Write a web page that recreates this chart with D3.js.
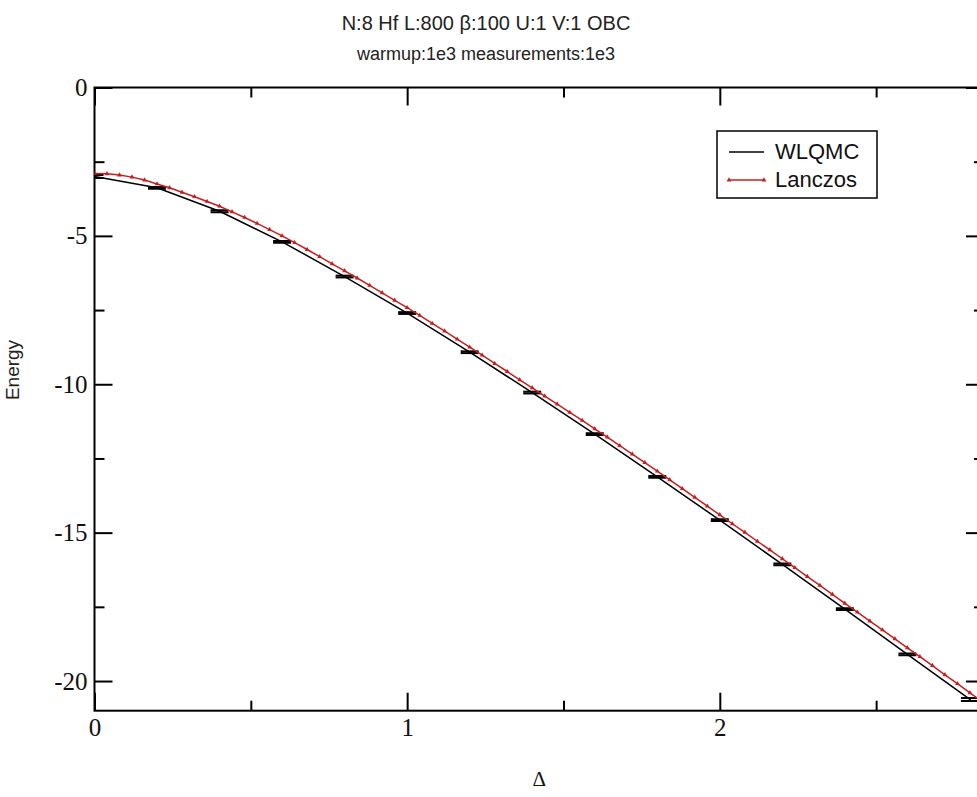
<!DOCTYPE html>
<html>
<head>
<meta charset="utf-8">
<script src="https://cdn.jsdelivr.net/npm/d3@7"></script>
<style>
  body { margin: 0; background: #fff; }
  svg { display: block; }
</style>
</head>
<body>
<svg id="plotSVG" width="977" height="797"></svg>
<script>
// title text
let titleText = "N:8 Hf L:800 \u03b2:100 U:1 V:1 OBC";
let subtitleText = "warmup:1e3 measurements:1e3";

// WLQMC points (with error bars)
let qmcDelta = [0, 0.2, 0.4, 0.6, 0.8, 1.0, 1.2, 1.4, 1.6, 1.8, 2.0, 2.2, 2.4, 2.6, 2.8];
let qmcEnergy = [-3.0, -3.38, -4.17, -5.2, -6.37, -7.6, -8.92, -10.28, -11.68, -13.12, -14.58, -16.07, -17.58, -19.1, -20.62];
let qmcError = [0.05, 0.03, 0.03, 0.03, 0.03, 0.03, 0.03, 0.03, 0.03, 0.03, 0.03, 0.03, 0.03, 0.03, 0.05];

// Lanczos (exact diagonalisation)
let lanczosDelta = [0, 0.04, 0.08, 0.12, 0.16, 0.2, 0.24, 0.28, 0.32, 0.36, 0.4, 0.44, 0.48, 0.52, 0.56, 0.6,
  0.64, 0.68, 0.72, 0.76, 0.8, 0.84, 0.88, 0.92, 0.96, 1.0, 1.04, 1.08, 1.12, 1.16, 1.2, 1.24, 1.28, 1.32,
  1.36, 1.4, 1.44, 1.48, 1.52, 1.56, 1.6, 1.64, 1.68, 1.72, 1.76, 1.8, 1.84, 1.88, 1.92, 1.96, 2.0, 2.04,
  2.08, 2.12, 2.16, 2.2, 2.24, 2.28, 2.32, 2.36, 2.4, 2.44, 2.48, 2.52, 2.56, 2.6, 2.64, 2.68, 2.72, 2.76,
  2.8, 2.84];
let lanczosEnergy = [-2.90, -2.91, -2.95, -3.02, -3.12, -3.25, -3.38, -3.53, -3.68, -3.84, -4.00, -4.19,
  -4.38, -4.58, -4.79, -5.00, -5.23, -5.46, -5.70, -5.94, -6.18, -6.42, -6.67, -6.92, -7.17, -7.42, -7.68,
  -7.95, -8.21, -8.48, -8.75, -9.02, -9.30, -9.57, -9.85, -10.12, -10.40, -10.67, -10.95, -11.22, -11.50,
  -11.78, -12.07, -12.35, -12.64, -12.93, -13.22, -13.52, -13.81, -14.11, -14.40, -14.70, -14.99, -15.29,
  -15.58, -15.88, -16.18, -16.48, -16.78, -17.08, -17.38, -17.68, -17.98, -18.28, -18.58, -18.88, -19.18,
  -19.48, -19.79, -20.09, -20.40, -20.70];

// ticks
let xMajor = [0, 1, 2];
let xMinor = [0.5, 1.5, 2.5];
let yMajor = [0, -5, -10, -15, -20];
let yMinor = [-2.5, -7.5, -12.5, -17.5];

let legendNames = ["WLQMC", "Lanczos"];

let redColor = "#c81e1e";
let serif = "'Liberation Serif', 'DejaVu Serif', serif";
let sans = "'Liberation Sans', Arial, sans-serif";

let qmcData = qmcDelta.map((d, i) => ({x: d, y: qmcEnergy[i], e: qmcError[i]}));
let lanczosData = lanczosDelta.map((d, i) => ({x: d, y: lanczosEnergy[i]}));

let svg = d3.select("#plotSVG");
svg.append("rect").attr("width", 977).attr("height", 797).attr("fill", "white");

// plot frame runs a bit past the right edge of the picture
let pLeft = 94.5, pRight = 984, pTop = 87.5, pBottom = 710.7;

let xScale = d3.scaleLinear().domain([0, 2.845]).range([pLeft, pRight]);
let yScale = d3.scaleLinear().domain([0, -21]).range([pTop, pBottom]);

// titles
svg.append("text")
  .text(titleText)
  .attr("x", 486).attr("y", 30)
  .attr("text-anchor", "middle")
  .style("font-family", sans)
  .style("font-size", "20px")
  .attr("fill", "#222");

svg.append("text")
  .text(subtitleText)
  .attr("x", 486).attr("y", 60)
  .attr("text-anchor", "middle")
  .style("font-family", sans)
  .style("font-size", "18px")
  .attr("fill", "#222");

// axes
function styleAxis(g) {
  g.select(".domain").remove();
  g.selectAll(".tick line").attr("stroke", "#000").attr("stroke-width", 2);
  g.selectAll(".tick text")
    .style("font-family", serif)
    .style("font-size", "25px")
    .attr("fill", "#111");
}

svg.append("g")
  .attr("transform", "translate(0," + pBottom + ")")
  .call(d3.axisBottom(xScale).tickValues(xMajor).tickSize(-18).tickPadding(8).tickFormat(d3.format("d")))
  .call(styleAxis);
svg.append("g")
  .attr("transform", "translate(0," + pBottom + ")")
  .call(d3.axisBottom(xScale).tickValues(xMinor).tickSize(-10).tickFormat(""))
  .call(styleAxis);
svg.append("g")
  .attr("transform", "translate(0," + pTop + ")")
  .call(d3.axisTop(xScale).tickValues(xMajor).tickSize(-18).tickFormat(""))
  .call(styleAxis);
svg.append("g")
  .attr("transform", "translate(0," + pTop + ")")
  .call(d3.axisTop(xScale).tickValues(xMinor).tickSize(-10).tickFormat(""))
  .call(styleAxis);

svg.append("g")
  .attr("transform", "translate(" + pLeft + ",0)")
  .call(d3.axisLeft(yScale).tickValues(yMajor).tickSize(-18).tickPadding(7).tickFormat(d => String(d)))
  .call(styleAxis);
svg.append("g")
  .attr("transform", "translate(" + pLeft + ",0)")
  .call(d3.axisLeft(yScale).tickValues(yMinor).tickSize(-10).tickFormat(""))
  .call(styleAxis);
svg.append("g")
  .attr("transform", "translate(" + pRight + ",0)")
  .call(d3.axisRight(yScale).tickValues(yMajor).tickSize(-18).tickFormat(""))
  .call(styleAxis);
svg.append("g")
  .attr("transform", "translate(" + pRight + ",0)")
  .call(d3.axisRight(yScale).tickValues(yMinor).tickSize(-10).tickFormat(""))
  .call(styleAxis);

// frame
svg.append("rect")
  .attr("x", pLeft).attr("y", pTop)
  .attr("width", pRight - pLeft).attr("height", pBottom - pTop)
  .attr("fill", "none").attr("stroke", "#000").attr("stroke-width", 2);

// axis labels
svg.append("text")
  .text("\u0394")
  .attr("x", (pLeft + pRight) / 2).attr("y", 786)
  .attr("text-anchor", "middle")
  .style("font-family", serif)
  .style("font-size", "21px")
  .attr("fill", "#111");

svg.append("text")
  .text("Energy")
  .attr("transform", "translate(19,370) rotate(-90)")
  .attr("text-anchor", "middle")
  .style("font-family", sans)
  .style("font-size", "19px")
  .attr("fill", "#222");

// data
svg.append("clipPath").attr("id", "plotClip")
  .append("rect").attr("x", pLeft).attr("y", pTop)
  .attr("width", pRight - pLeft).attr("height", pBottom - pTop);

let plot = svg.append("g").attr("clip-path", "url(#plotClip)");

let line = d3.line().x(d => xScale(d.x)).y(d => yScale(d.y));

plot.append("path")
  .datum(qmcData)
  .attr("d", line)
  .attr("fill", "none")
  .attr("stroke", "#000")
  .attr("stroke-width", 1.5);

// error bars
let bars = plot.selectAll(".errbar")
  .data(qmcData)
  .join("g")
  .attr("class", "errbar")
  .attr("stroke", "#000")
  .attr("stroke-width", 2);
bars.append("line")
  .attr("x1", d => xScale(d.x)).attr("x2", d => xScale(d.x))
  .attr("y1", d => yScale(d.y + d.e)).attr("y2", d => yScale(d.y - d.e));
bars.append("line")
  .attr("x1", d => xScale(d.x) - 9).attr("x2", d => xScale(d.x) + 9)
  .attr("y1", d => yScale(d.y + d.e)).attr("y2", d => yScale(d.y + d.e));
bars.append("line")
  .attr("x1", d => xScale(d.x) - 9).attr("x2", d => xScale(d.x) + 9)
  .attr("y1", d => yScale(d.y - d.e)).attr("y2", d => yScale(d.y - d.e));

plot.append("path")
  .datum(lanczosData)
  .attr("d", line)
  .attr("fill", "none")
  .attr("stroke", redColor)
  .attr("stroke-width", 1.5);

let tri = d3.symbol().type(d3.symbolTriangle).size(10);
plot.selectAll(".lz")
  .data(lanczosData)
  .join("path")
  .attr("class", "lz")
  .attr("d", tri)
  .attr("transform", d => "translate(" + xScale(d.x) + "," + yScale(d.y) + ")")
  .attr("fill", redColor);

// legend
let legend = svg.append("g");
legend.append("rect")
  .attr("x", 717).attr("y", 131).attr("width", 160).attr("height", 67)
  .attr("fill", "white").attr("stroke", "#000").attr("stroke-width", 1.5);

legend.append("line")
  .attr("x1", 729).attr("x2", 764).attr("y1", 152).attr("y2", 152)
  .attr("stroke", "#000").attr("stroke-width", 1.5);
legend.append("line")
  .attr("x1", 729).attr("x2", 764).attr("y1", 180).attr("y2", 180)
  .attr("stroke", redColor).attr("stroke-width", 1.5);
legend.selectAll(".lzl")
  .data([729, 764])
  .join("path")
  .attr("class", "lzl")
  .attr("d", tri)
  .attr("transform", d => "translate(" + d + ",180)")
  .attr("fill", redColor);

legend.selectAll(".legtext")
  .data(legendNames)
  .join("text")
  .attr("class", "legtext")
  .text(d => d)
  .attr("x", 775)
  .attr("y", (d, i) => 159 + i * 28)
  .style("font-family", sans)
  .style("font-size", "22px")
  .attr("fill", "#111");
</script>
</body>
</html>
